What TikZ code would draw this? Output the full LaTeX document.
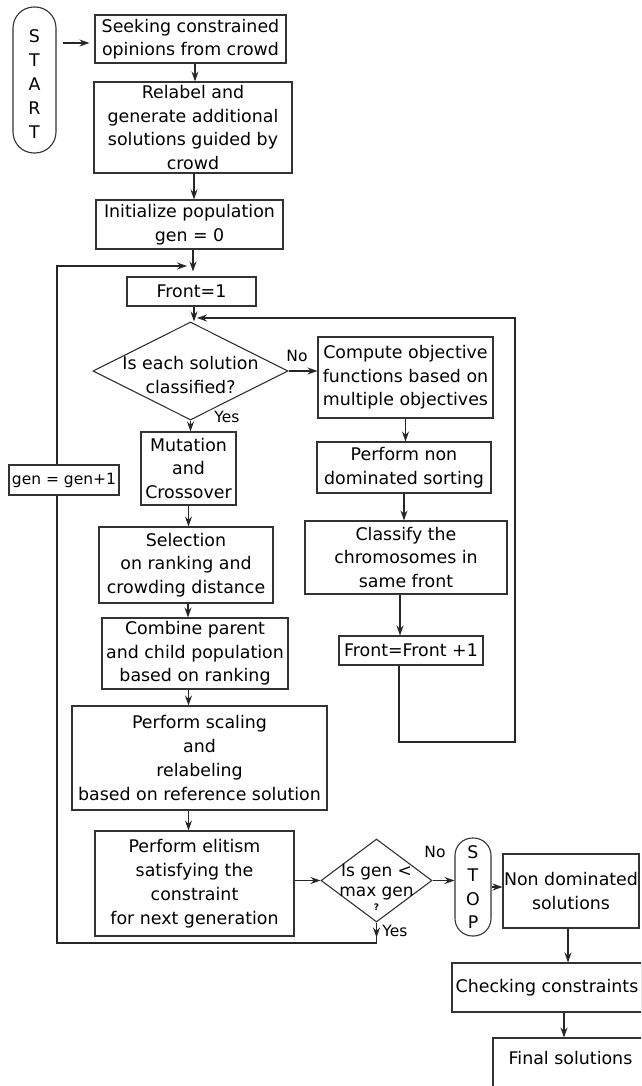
\documentclass[tikz,border=0pt]{standalone}
\usepackage{fontspec}
\setmainfont{DejaVu Sans}
\usetikzlibrary{arrows.meta,shapes.geometric}
\begin{document}
\begin{tikzpicture}[x=1pt,y=-1pt,
  every node/.style={font=\fontsize{17.4}{23.5}\selectfont, inner sep=0pt, text=black},
  box/.style={draw=black!80, line width=1.1pt, fill=white, align=center},
  capsule/.style={draw=black!80, line width=1.1pt, fill=white, align=center},
  dia/.style={draw=black!80, line width=1.1pt, fill=white, diamond, inner sep=0pt},
  arr/.style={draw=black!85, line width=1.1pt, -{Stealth[length=10pt,width=7pt]}},
  plain/.style={draw=black!85, line width=1.1pt},
  lbl/.style={font=\fontsize{15.5}{18}\selectfont}
]
\useasboundingbox (0,0) rectangle (641,1086);
\clip (0,0) rectangle (641,1086);

% ---- nodes ----
\node[capsule, rounded corners=21pt, minimum width=43pt, minimum height=146pt,
      label={[align=center,font=\fontsize{17.4}{24}\selectfont,yshift=-4pt]center:S\\T\\A\\R\\T}] (start) at (34.5,80) {};
\node[box, minimum width=191pt, minimum height=48pt] (box1) at (190.5,39) {Seeking constrained\\opinions from crowd};
\node[box, minimum width=198pt, minimum height=91pt] (box2) at (193,127.5) {Relabel and\\generate additional\\solutions guided by\\crowd};
\node[box, minimum width=187pt, minimum height=49pt] (box3) at (189.5,224.5) {Initialize population\\gen = 0};
\node[box, minimum width=129pt, minimum height=29pt] (front1) at (191.5,291.5) {Front=1};
\node[dia, minimum width=195pt, minimum height=98pt,
      label={[align=center,yshift=-4pt]center:Is each solution\\classified?}] (d1) at (190.5,371) {};

\node[box, minimum width=175pt, minimum height=81pt] (comp) at (405.5,377.5) {Compute objective\\functions based on\\multiple objectives};
\node[box, minimum width=174pt, minimum height=51pt] (pnon) at (404,467.5) {Perform non\\dominated sorting};
\node[box, minimum width=202pt, minimum height=73pt] (clas) at (406,557.5) {Classify the\\chromosomes in\\same front};
\node[box, minimum width=144pt, minimum height=29pt] (front2) at (411,650.5) {Front=Front +1};

\node[box, minimum width=95pt, minimum height=73pt] (mut) at (188.5,468.5) {Mutation\\and\\Crossover};
\node[box, minimum width=174pt, minimum height=76pt] (sel) at (186,565) {Selection\\on ranking and\\crowding distance};
\node[box, minimum width=186pt, minimum height=71pt] (comb) at (195,653.5) {Combine parent\\and child population\\based on ranking};
\node[box, minimum width=255pt, minimum height=104pt, font=\fontsize{17.4}{24.3}\selectfont] (scal) at (199.5,758) {Perform scaling\\and\\relabeling\\based on reference solution};
\node[box, minimum width=199pt, minimum height=105pt, font=\fontsize{17.4}{24}\selectfont] (elit) at (194.5,883.5) {Perform elitism\\satisfying the\\constraint\\for next generation};
\node[dia, minimum width=111pt, minimum height=83pt,
      label={[align=center,font=\fontsize{17}{20}\selectfont,yshift=-1.5pt]center:Is gen <\\max gen},
      label={[font=\fontsize{9}{9}\selectfont\bfseries,yshift=-26.5pt]center:?}] (d2) at (376.5,880.5) {};
\node[capsule, rounded corners=17.5pt, minimum width=36pt, minimum height=98pt] (stop) at (473,887) {S\\T\\O\\P};
\node[box, minimum width=136pt, minimum height=74pt] (nond) at (571,891) {Non dominated\\solutions};
\node[box, minimum width=190pt, minimum height=49pt] (chk) at (547,987.5) {Checking constraints};
\node[box, minimum width=155pt, minimum height=54pt,
      label={[yshift=7pt]center:Final solutions}] (fin) at (570.5,1065) {};

% ---- branch labels ----
\node[lbl] (no1) at (297,356) {No};
\node[lbl] (yes1) at (227,417) {Yes};
\node[lbl] (no2) at (435,852) {No};
\node[lbl] (yes2) at (395,931) {Yes};

% ---- helper coordinates for loops ----
\coordinate (rb) at (515,742);
\coordinate (rt) at (515,318);
\coordinate (lb) at (57,943);
\coordinate (lt) at (57,266);

% ---- connectors ----
\draw[arr] ([xshift=6pt,yshift=-4pt]start.east |- box1.west) -- ([xshift=-5pt,yshift=-4pt]box1.west);
\draw[arr] ([xshift=4.5pt]box1.south) -- ([xshift=4.5pt]box1.south |- box2.north);
\draw[arr] ([xshift=1pt]box2.south) -- ([xshift=1pt]box2.south |- box3.north);
\draw[arr] ([xshift=3.5pt]box3.south) -- ([xshift=3.5pt,yshift=5pt]box3.south |- front1.north);
\draw[arr] ([xshift=2.5pt]front1.south) -- ([xshift=2.5pt]front1.south |- d1.north);
\draw[arr] (d1.east) -- (d1.east -| comp.west);
\draw[arr] (d1.south) -- (d1.south |- mut.north);
\draw[arr] (mut.south) -- (mut.south |- sel.north);
\draw[arr] ([xshift=2pt]sel.south) -- ([xshift=2pt]sel.south |- comb.north);
\draw[arr] ([xshift=-6.5pt]comb.south) -- ([xshift=-6.5pt]comb.south |- scal.north);
\draw[arr] ([xshift=-11pt]scal.south) -- ([xshift=-11pt]scal.south |- elit.north);
\draw[arr] (elit.east |- d2.west) -- (d2.west);
\draw[arr] (d2.east) -- (d2.east -| stop.west);
\draw[arr] (stop.east) -- (stop.east -| nond.west);
\draw[arr] ([xshift=-3pt]nond.south) -- ([xshift=-3pt]nond.south |- chk.north);
\draw[arr] ([xshift=-6.5pt]fin.north |- chk.south) -- ([xshift=-6.5pt]fin.north);

\draw[arr] (comp.south) -- (comp.south |- pnon.north);
\draw[arr] (pnon.south) -- (pnon.south |- clas.north);
\draw[arr] ([xshift=-6pt]clas.south) -- ([xshift=-6pt]clas.south |- front2.north);

% inner loop back to the decision
\draw[arr] ([xshift=-12pt]front2.south) |- (rb) -- (rt) -- ([xshift=6.5pt]d1.north |- rt);

% outer generation loop
\draw[arr] (d2.south) -- ([yshift=-15pt]d2.south);
\draw[arr] (d2.south) -- (d2.south |- lb) -- (lb) -- (lt) -- ([xshift=-4.5pt]front1.north |- lt);

\node[box, minimum width=110pt, minimum height=30pt, font=\fontsize{15.5}{18}\selectfont] (gen) at (64,480) {gen = gen+1};
\end{tikzpicture}
\end{document}
